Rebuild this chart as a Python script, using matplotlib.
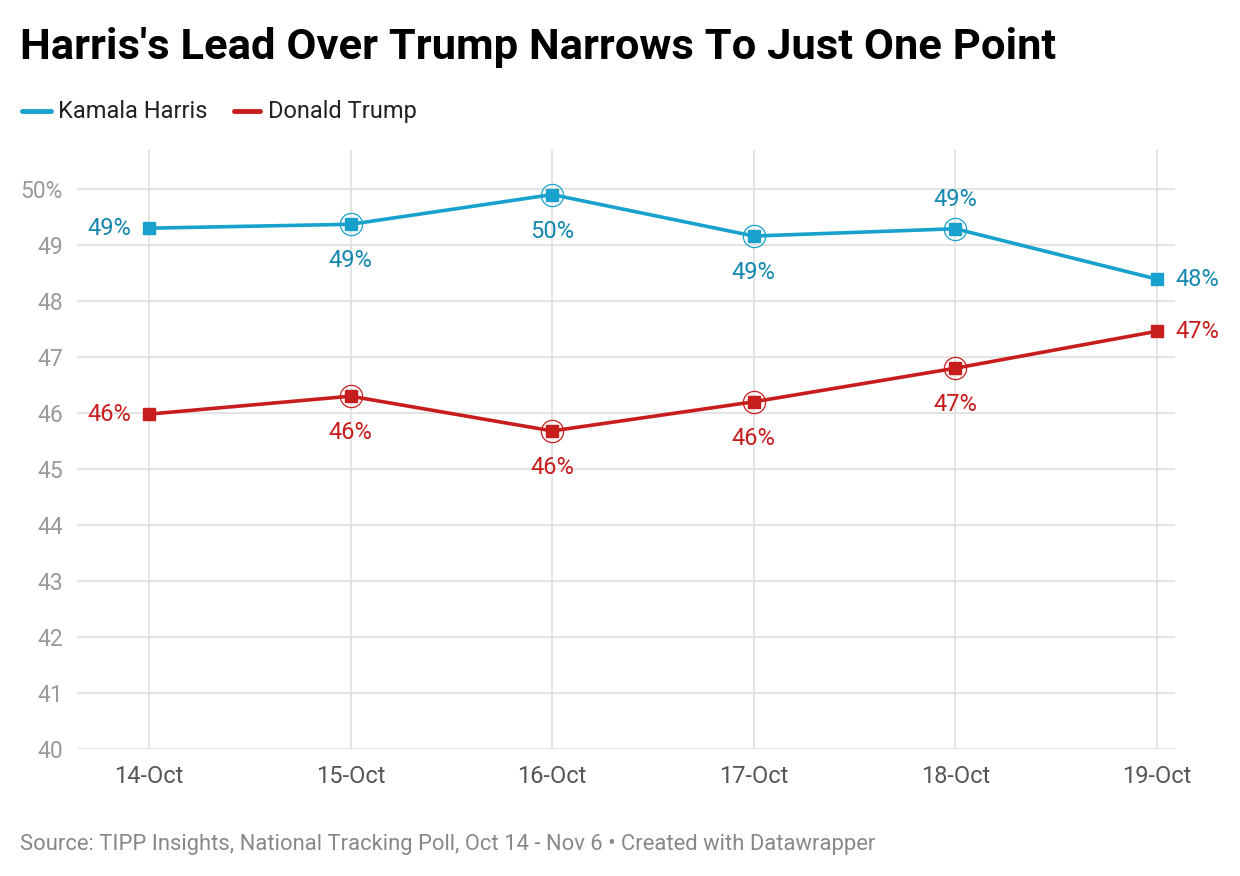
import matplotlib.pyplot as plt
import numpy as np

plt.rcParams['font.family'] = ['Roboto', 'DejaVu Sans']

dates = ['14-Oct', '15-Oct', '16-Oct', '17-Oct', '18-Oct', '19-Oct']
harris = [49.30, 49.37, 49.90, 49.16, 49.29, 48.39]
trump = [45.98, 46.30, 45.68, 46.20, 46.80, 47.46]
harris_labels = ['49%', '49%', '50%', '49%', '49%', '48%']
trump_labels = ['46%', '46%', '46%', '46%', '47%', '47%']
# where each value label sits relative to its point
harris_pos = ['left', 'below', 'below', 'below', 'above', 'right']
trump_pos = ['left', 'below', 'below', 'below', 'below', 'right']

blue = '#18a1cd'
blue_txt = '#1588b0'
red = '#c71e1d'

fig = plt.figure(figsize=(12.4, 8.76), dpi=100)
ax = fig.add_axes([0.0621, 0.145, 0.8855, 0.684])

x = np.arange(len(dates))
ax.set_xlim(-0.357, 5.089)
ax.set_ylim(40, 50.7)

for yv in range(40, 51):
    ax.axhline(yv, color='#e2e2e2', lw=1.3, zorder=0)
for xv in x:
    ax.axvline(xv, color='#e2e2e2', lw=1.3, zorder=0)

offsets = {'left': (-13, 0, 'right', 'center'),
           'right': (13, 0, 'left', 'center'),
           'below': (0, -18, 'center', 'top'),
           'above': (0, 13, 'center', 'bottom')}

for vals, labels, pos, col, tcol in [(harris, harris_labels, harris_pos, blue, blue_txt),
                                     (trump, trump_labels, trump_pos, red, red)]:
    ax.plot(x, vals, color=col, lw=2.6, zorder=3)
    ax.plot(x, vals, 's', color=col, ms=8, zorder=4)
    ax.plot(x[1:-1], vals[1:-1], 'o', mfc='none', mec=col, ms=16, mew=0.9, zorder=4)
    for xi, v, lab, p in zip(x, vals, labels, pos):
        dx, dy, ha, va = offsets[p]
        ax.annotate(lab, (xi, v), xytext=(dx, dy), textcoords='offset points',
                    ha=ha, va=va, fontsize=17, color=tcol, zorder=5)

for s in ax.spines.values():
    s.set_visible(False)
ax.set_yticks(range(40, 51))
ax.set_yticklabels([str(v) for v in range(40, 50)] + ['50%'])
ax.set_xticks(x)
ax.set_xticklabels(dates)
ax.tick_params(axis='y', length=0, pad=10, labelsize=16.5, labelcolor='#9a9a9a')
ax.tick_params(axis='x', length=0, pad=11.5, labelsize=17, labelcolor='#555555')

fig.text(0.016, 0.946, "Harris's Lead Over Trump Narrows To Just One Point",
         fontsize=31.3, fontweight='bold', color='#000000', va='center')

# legend
fig.lines.append(plt.Line2D([0.018, 0.041], [0.873, 0.873], color=blue, lw=3.5,
                            transform=fig.transFigure, solid_capstyle='round'))
fig.text(0.047, 0.873, 'Kamala Harris', fontsize=17, color='#222222', va='center')
fig.lines.append(plt.Line2D([0.189, 0.210], [0.873, 0.873], color=red, lw=3.5,
                            transform=fig.transFigure, solid_capstyle='round'))
fig.text(0.216, 0.873, 'Donald Trump', fontsize=17, color='#222222', va='center')

fig.text(0.016, 0.036, 'Source: TIPP Insights, National Tracking Poll, Oct 14 - Nov 6 \u2022 Created with Datawrapper',
         fontsize=15.85, color='#888888', va='center')

fig.savefig('out.png', dpi=100, facecolor='white')
